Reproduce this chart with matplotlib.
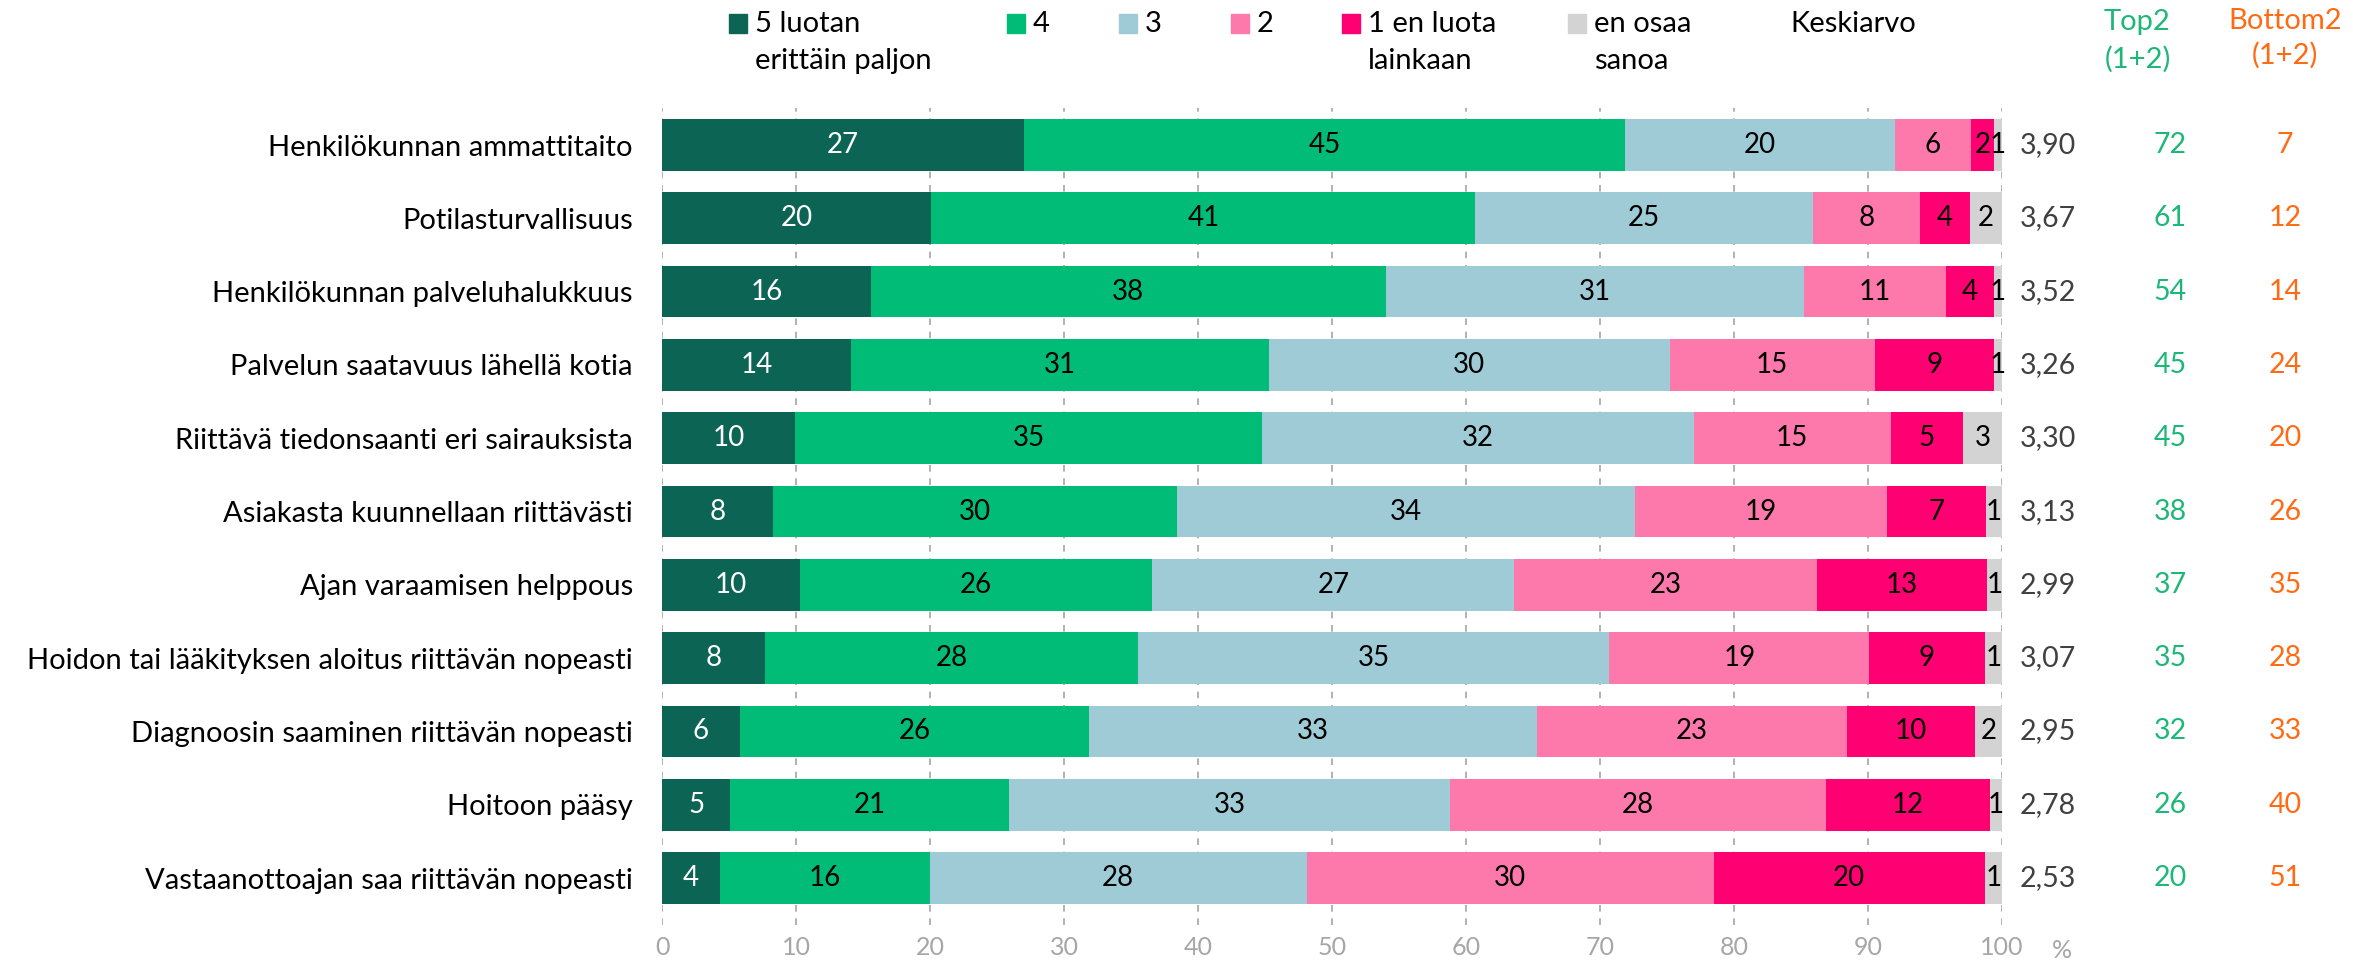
import matplotlib
matplotlib.use("Agg")
import matplotlib.pyplot as plt
from matplotlib.transforms import blended_transform_factory
import numpy as np

plt.rcParams['font.family'] = ['Lato', 'DejaVu Sans']

# data
categories = [
    "Henkilökunnan ammattitaito",
    "Potilasturvallisuus",
    "Henkilökunnan palveluhalukkuus",
    "Palvelun saatavuus lähellä kotia",
    "Riittävä tiedonsaanti eri sairauksista",
    "Asiakasta kuunnellaan riittävästi",
    "Ajan varaamisen helppous",
    "Hoidon tai lääkityksen aloitus riittävän nopeasti",
    "Diagnoosin saaminen riittävän nopeasti",
    "Hoitoon pääsy",
    "Vastaanottoajan saa riittävän nopeasti",
]
v5 = [27.0, 20.1, 15.6, 14.1, 9.9, 8.3, 10.3, 7.7, 5.8, 5.1, 4.3]
v4 = [44.9, 40.6, 38.4, 31.2, 34.9, 30.1, 26.3, 27.8, 26.1, 20.8, 15.7]
v3 = [20.1, 25.2, 31.2, 29.9, 32.2, 34.2, 27.0, 35.2, 33.4, 32.9, 28.1]
v2 = [5.7, 8.0, 10.6, 15.3, 14.7, 18.8, 22.6, 19.4, 23.1, 28.1, 30.4]
v1 = [1.7, 3.7, 3.6, 8.9, 5.4, 7.4, 12.7, 8.6, 9.6, 12.2, 20.2]
veos = [0.6, 2.4, 0.6, 0.6, 2.9, 1.2, 1.1, 1.3, 2.0, 0.9, 1.3]
keskiarvo = [3.90, 3.67, 3.52, 3.26, 3.30, 3.13, 2.99, 3.07, 2.95, 2.78, 2.53]
top2 = [72, 61, 54, 45, 45, 38, 37, 35, 32, 26, 20]
bottom2 = [7, 12, 14, 24, 20, 26, 35, 28, 33, 40, 51]

series_names = ["5 luotan\nerittäin paljon", "4", "3", "2", "1 en luota\nlainkaan", "en osaa\nsanoa"]
colors = ["#0B6454", "#00BC77", "#9FCBD6", "#FD78AB", "#FE0072", "#D3D3D3"]
label_colors = ["white", "black", "black", "black", "black", "black"]
green_txt = "#1DB877"
orange_txt = "#FF6A13"

W, H = 2353, 963
fig = plt.figure(figsize=(W / 100, H / 100), dpi=100)


def fx(px):
    return px / W


def fy(py):
    return 1 - py / H


ax = fig.add_axes([fx(662), fy(925), fx(2002) - fx(662), fy(108) - fy(925)])

y = np.arange(len(categories))
left = np.zeros(len(categories))
for vals, col, tcol in zip([v5, v4, v3, v2, v1, veos], colors, label_colors):
    vals = np.array(vals)
    ax.barh(y, vals, left=left, height=0.705, color=col, zorder=2)
    for yi, (l, v) in enumerate(zip(left, vals)):
        ax.text(l + v / 2, yi, f"{v:.0f}", ha="center", va="center",
                color=tcol, fontsize=20, zorder=3)
    left += vals

ax.set_xlim(0, 100)
ax.set_ylim(10.64, -0.505)
ax.set_xticks(np.arange(0, 101, 10))
ax.tick_params(axis="x", length=0, pad=8, labelsize=18, labelcolor="#A6A6A6")
ax.set_yticks(y)
ax.set_yticklabels(categories, fontsize=21)
ax.tick_params(axis="y", length=0, pad=21)
ax.grid(axis="x", linestyle=(0, (4, 4)), color="#A6A6A6", linewidth=1.2, zorder=0)
for s in ax.spines.values():
    s.set_visible(False)

fig.text(fx(2062), fy(950), "%", ha="center", va="center", fontsize=18, color="#A6A6A6")

# right-hand columns
tr = blended_transform_factory(fig.transFigure, ax.transData)
for yi in y:
    ax.text(fx(2048), yi, f"{keskiarvo[yi]:.2f}".replace(".", ","), transform=tr,
            ha="center", va="center", fontsize=20.5, color="#404040")
    ax.text(fx(2170), yi, str(top2[yi]), transform=tr,
            ha="center", va="center", fontsize=20.5, color=green_txt)
    ax.text(fx(2285), yi, str(bottom2[yi]), transform=tr,
            ha="center", va="center", fontsize=20.5, color=orange_txt)

fig.text(fx(2137), fy(22), "Top2", ha="center", va="center", fontsize=21, color=green_txt)
fig.text(fx(2138), fy(59), "(1+2)", ha="center", va="center", fontsize=21, color=green_txt)
fig.text(fx(2285), fy(21), "Bottom2", ha="center", va="center", fontsize=21, color=orange_txt)
fig.text(fx(2285), fy(55), "(1+2)", ha="center", va="center", fontsize=21, color=orange_txt)

# legend
sq_x = [729, 1007, 1119, 1231, 1342, 1568]
for sx, name, col in zip(sq_x, series_names, colors):
    fig.patches.append(plt.Rectangle((fx(sx), fy(33)), fx(18), 19 / H,
                                     transform=fig.transFigure, color=col))
    lines = name.split("\n")
    fig.text(fx(sx + 26), fy(24), lines[0], ha="left", va="center", fontsize=21)
    if len(lines) > 1:
        fig.text(fx(sx + 26), fy(61), lines[1], ha="left", va="center", fontsize=21)
fig.text(fx(1790), fy(24), "Keskiarvo", ha="left", va="center", fontsize=21)

fig.savefig("out.png", dpi=100)
